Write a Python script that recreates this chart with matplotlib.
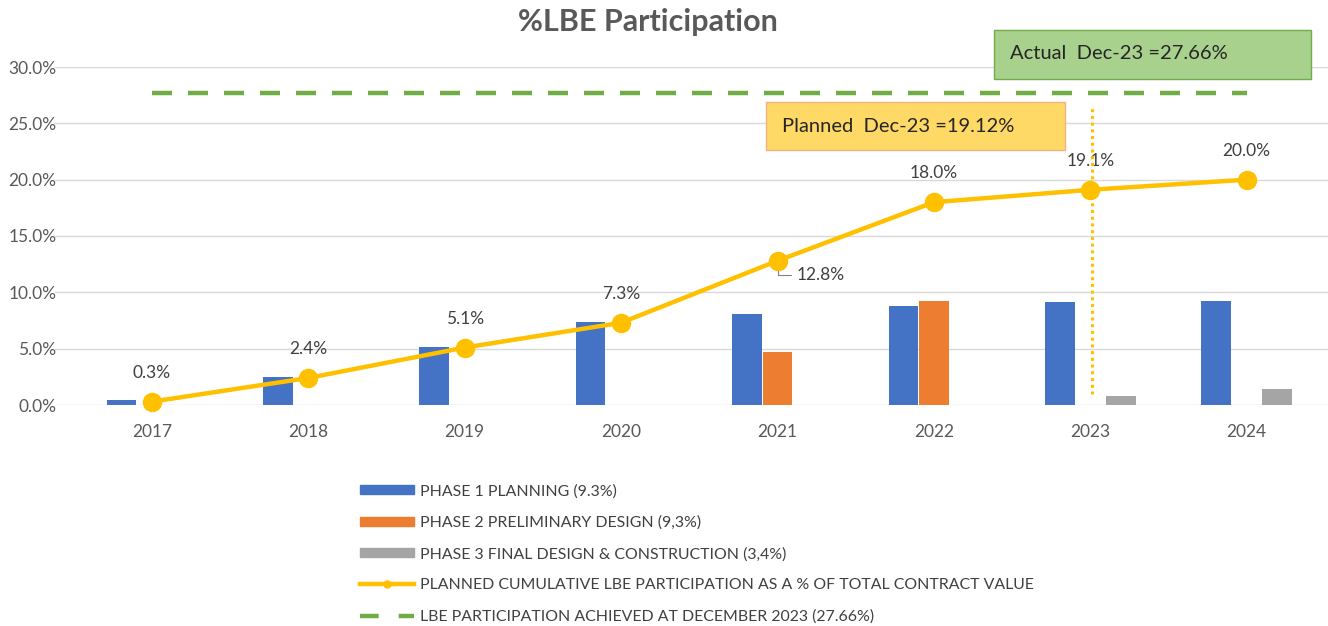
import matplotlib
matplotlib.use("Agg")
import matplotlib.pyplot as plt
from matplotlib.lines import Line2D
from matplotlib.patches import Patch, Rectangle

plt.rcParams['font.family'] = ['Lato', 'DejaVu Sans']

years = ['2017', '2018', '2019', '2020', '2021', '2022', '2023', '2024']
phase1 = [0.42, 2.49, 5.16, 7.36, 8.10, 8.75, 9.14, 9.26]
phase2 = [0, 0, 0, 0, 4.66, 9.26, 0, 0]
phase3 = [0, 0, 0, 0, 0, 0, 0.80, 1.42]
planned = [0.3, 2.4, 5.1, 7.3, 12.8, 18.0, 19.1, 20.0]
achieved = 27.66
planned_dec23 = 19.12

labels = ['PHASE 1 PLANNING (9.3%)',
          'PHASE 2 PRELIMINARY DESIGN (9,3%)',
          'PHASE 3 FINAL DESIGN & CONSTRUCTION (3,4%)',
          'PLANNED CUMULATIVE LBE PARTICIPATION AS A % OF TOTAL CONTRACT VALUE',
          'LBE PARTICIPATION ACHIEVED AT DECEMBER 2023 (27.66%)']

blue = '#4472C4'
orange = '#ED7D31'
gray = '#A5A5A5'
gold = '#FFC000'
green = '#70AD47'
txt = '#595959'

W, H = 1328, 626
fig = plt.figure(figsize=(W / 100, H / 100), dpi=100)
ax = fig.add_axes([55 / W, (H - 405) / H, 1273 / W, 338 / H])

x = list(range(len(years)))
bw = 0.19
off = 0.195
ax.bar([i - off for i in x], phase1, bw, color=blue, zorder=2)
ax.bar(x, phase2, bw, color=orange, zorder=2)
ax.bar([i + off for i in x], phase3, bw, color=gray, zorder=2)

ax.plot(x, [achieved] * len(x), color=green, lw=3.2, dashes=(4.5, 3.6), zorder=3)
ax.plot(x, planned, color=gold, lw=3.2, marker='o', ms=13, zorder=4, clip_on=False)

for i, v in enumerate(planned):
    if i == 4:
        ax.annotate(f'{v:.1f}%', xy=(i, v), xytext=(14, -10), textcoords='offset points',
                    fontsize=12.5, color='#404040', va='center', ha='left',
                    arrowprops=dict(arrowstyle='-', color='#808080', lw=0.8,
                                    connectionstyle='angle,angleA=0,angleB=90,rad=0'))
    else:
        ax.annotate(f'{v:.1f}%', xy=(i, v), xytext=(0, 15), textcoords='offset points',
                    fontsize=12.5, color='#404040', ha='center', va='bottom')

# vertical dotted marker at Dec-23
ax.plot([6.01, 6.01], [1.0, 26.5], color=gold, lw=2.2, ls=(0, (1, 1.2)), zorder=3)

# callout boxes
ax.add_patch(Rectangle((5.384, 28.93), 2.026, 4.34, fc='#A9D18E', ec='#70AD47', lw=1,
                       zorder=6, clip_on=False))
ax.text(5.486, 31.2, 'Actual  Dec-23 =27.66%', fontsize=14.5, color='#262626',
        ha='left', va='center', zorder=7, clip_on=False)
ax.add_patch(Rectangle((3.926, 22.63), 1.912, 4.26, fc='#FFD966', ec='#F4B183', lw=1,
                       zorder=6))
ax.text(4.028, 24.76, f'Planned  Dec-23 ={planned_dec23:.2f}%', fontsize=14.5,
        color='#262626', ha='left', va='center', zorder=7)

ax.set_xlim(-0.62, 7.52)
ax.set_ylim(0, 30)
ax.set_xticks(x)
ax.set_xticklabels(years)
ax.set_yticks([0, 5, 10, 15, 20, 25, 30])
ax.set_yticklabels([f'{v:.1f}%' for v in [0, 5, 10, 15, 20, 25, 30]])
ax.tick_params(axis='both', length=0, labelsize=12.5, colors=txt)
ax.tick_params(axis='x', pad=14)
ax.tick_params(axis='y', pad=-1)
ax.grid(axis='y', color='#D9D9D9', lw=1, zorder=0)
ax.set_axisbelow(True)
for s in ax.spines.values():
    s.set_visible(False)

fig.text(648 / W, 1 - 22 / H, '%LBE Participation', fontsize=22, fontweight='bold',
         color=txt, ha='center', va='center')

handles = [Patch(color=blue), Patch(color=orange), Patch(color=gray),
           Line2D([], [], color=gold, lw=3.2, marker='o', ms=5),
           Line2D([], [], color=green, lw=3.2, dashes=(4.2, 4.5))]
fig.legend(handles, labels, loc='upper left', bbox_to_anchor=(360 / W, 1 - 484 / H),
           frameon=False, fontsize=11.4, handlelength=3.4, handleheight=0.5,
           labelspacing=1.08, handletextpad=0.4, borderpad=0, borderaxespad=0,
           labelcolor='#404040')

fig.savefig('out.png', dpi=100)
